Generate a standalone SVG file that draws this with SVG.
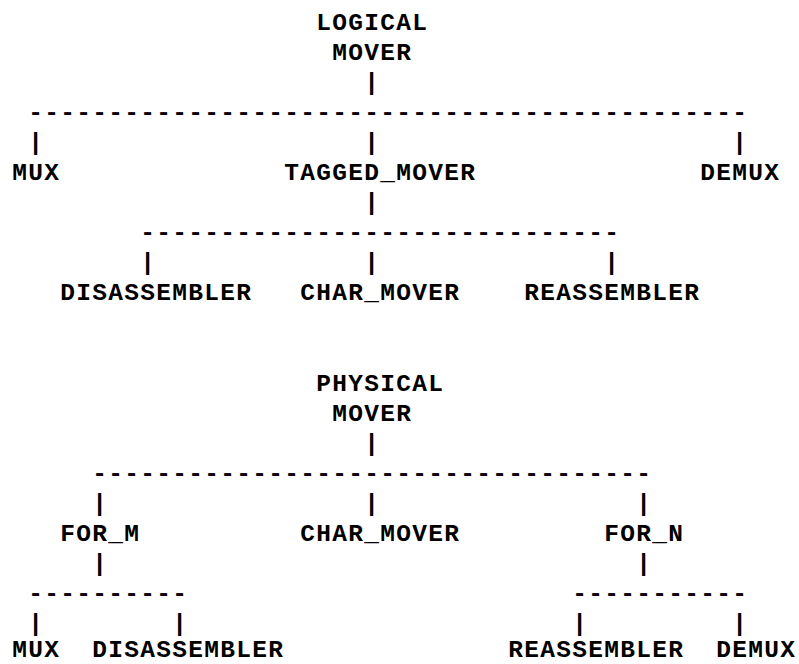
<svg xmlns="http://www.w3.org/2000/svg" width="799" height="664" viewBox="0 0 799 664">
<style>
text{font-family:"Liberation Mono","Courier New",monospace;font-weight:bold;font-size:24.5px;letter-spacing:1.3px;fill:#000;white-space:pre}
</style>
<rect width="799" height="664" fill="#fff"/>
<g id="connectors">
<text x="364.2" y="89.7">|</text>
<text x="28.2" y="119.8">---------------------------------------------</text>
<text x="28.2" y="149.9">|</text>
<text x="364.2" y="149.9">|</text>
<text x="732.2" y="149.9">|</text>
<text x="364.2" y="210.1">|</text>
<text x="140.2" y="240.2">------------------------------</text>
<text x="140.2" y="270.3">|</text>
<text x="364.2" y="270.3">|</text>
<text x="604.2" y="270.3">|</text>
<text x="364.2" y="450.9">|</text>
<text x="92.2" y="481">-----------------------------------</text>
<text x="92.2" y="511.1">|</text>
<text x="364.2" y="511.1">|</text>
<text x="636.2" y="511.1">|</text>
<text x="92.2" y="571.3">|</text>
<text x="636.2" y="571.3">|</text>
<text x="28.2" y="601.4">----------</text>
<text x="572.2" y="601.4">-----------</text>
<text x="28.2" y="630.5">|</text>
<text x="172.2" y="630.5">|</text>
<text x="572.2" y="630.5">|</text>
<text x="732.2" y="630.5">|</text>
</g>
<g id="logical_mover"><text x="316.2" y="29.5">LOGICAL</text><text x="332.2" y="59.6">MOVER</text></g>
<g id="mux1"><text x="12.2" y="180">MUX</text></g>
<g id="tagged_mover"><text x="284.2" y="180">TAGGED_MOVER</text></g>
<g id="demux1"><text x="700.2" y="180">DEMUX</text></g>
<g id="disassembler1"><text x="60.2" y="300.4">DISASSEMBLER</text></g>
<g id="char_mover1"><text x="300.2" y="300.4">CHAR_MOVER</text></g>
<g id="reassembler1"><text x="524.2" y="300.4">REASSEMBLER</text></g>
<g id="physical_mover"><text x="316.2" y="390.7">PHYSICAL</text><text x="332.2" y="420.8">MOVER</text></g>
<g id="for_m"><text x="60.2" y="541.2">FOR_M</text></g>
<g id="char_mover2"><text x="300.2" y="541.2">CHAR_MOVER</text></g>
<g id="for_n"><text x="604.2" y="541.2">FOR_N</text></g>
<g id="mux2"><text x="12.2" y="657">MUX</text></g>
<g id="disassembler2"><text x="92.2" y="657">DISASSEMBLER</text></g>
<g id="reassembler2"><text x="508.2" y="657">REASSEMBLER</text></g>
<g id="demux2"><text x="716.2" y="657">DEMUX</text></g>
</svg>
